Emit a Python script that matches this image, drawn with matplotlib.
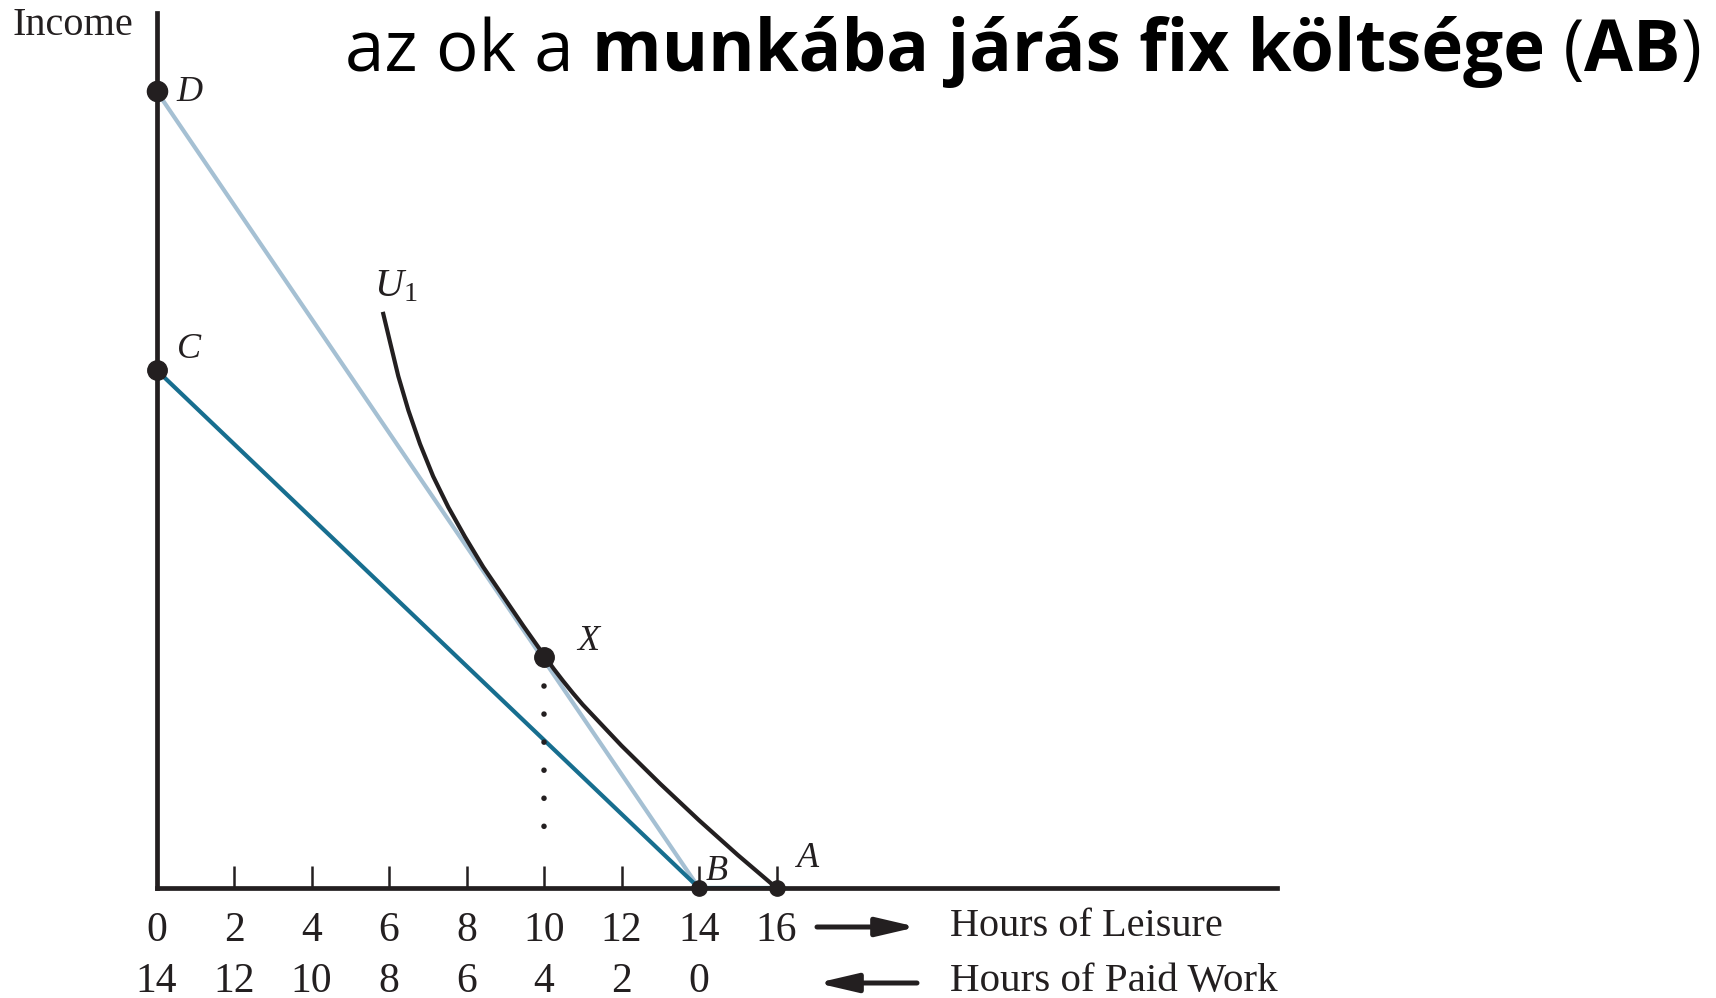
import matplotlib
matplotlib.use("Agg")
import matplotlib.pyplot as plt

plt.rcParams['mathtext.fontset'] = 'custom'
plt.rcParams['mathtext.rm'] = 'Liberation Serif'
plt.rcParams['mathtext.it'] = 'Liberation Serif:italic'

# data (hours of leisure, income)
D_income = 140
C_income = 91
B_hours = 14
A_hours = 16
X_point = (10, 40.6)
leisure_ticks = [0, 2, 4, 6, 8, 10, 12, 14, 16]
work_labels = ["14", "12", "10", "8", "6", "4", "2", "0"]
u1_hours = [5.84, 6.03, 6.24, 6.5, 6.8, 7.14, 7.53, 7.96, 8.43, 8.95, 9.47, 10.0,
            10.25, 10.5, 10.75, 11.0, 11.5, 12.0, 12.5, 13.0, 13.5, 14.0, 14.5, 15.0, 15.5, 16.0]
u1_income = [101.2, 95.8, 89.9, 83.9, 78.0, 72.3, 66.9, 61.7, 56.4, 51.2, 46.0, 40.9,
             38.5, 36.3, 34.2, 32.2, 28.6, 25.0, 21.65, 18.3, 15.1, 11.9, 8.85, 5.8, 2.9, 0.0]
dots_income = [35.5, 6.0]

W, H = 1716, 998
fig = plt.figure(figsize=(W / 100, H / 100), dpi=100)
ink = '#231f20'
light = '#a5c0d3'
teal = '#176e8f'
serif = 'Liberation Serif'

# axes: x=0 at 156.5px, 38.75 px per hour; y=0 at 888px, 5.693 px per unit
ax = fig.add_axes([156.5 / W, (H - 888) / H, (1277 - 156.5) / W, (888 - 13) / H])
ax.set_xlim(0, (1277 - 156.5) / 38.75)
ax.set_ylim(0, (888 - 13) / 5.693)
for s in ['top', 'right']:
    ax.spines[s].set_visible(False)
for s in ['left', 'bottom']:
    ax.spines[s].set_linewidth(3.4)
    ax.spines[s].set_color(ink)
ax.set_yticks([])
ax.set_xticks(leisure_ticks)
ax.set_xticklabels([str(t) for t in leisure_ticks], fontfamily=serif, fontsize=30, color=ink)
ax.tick_params(axis='x', direction='in', length=16, width=1.8, color=ink, pad=17)

# budget lines
ax.plot([0, B_hours], [D_income, 0], color=light, lw=3.0, solid_capstyle='round', clip_on=False)
ax.plot([0, B_hours, A_hours], [C_income, 0, 0], color=teal, lw=3.0, clip_on=False)
ax.plot(u1_hours, u1_income, color=ink, lw=3.0, solid_capstyle='butt',
        solid_joinstyle='round', clip_on=False)
ax.plot([X_point[0]] * 2, dots_income, color=ink, lw=4.0, linestyle=(0, (0.01, 5.04)),
        dash_capstyle='round')

# points
ax.plot([0], [D_income], 'o', color=ink, ms=14.5, clip_on=False, zorder=5)
ax.plot([0], [C_income], 'o', color=ink, ms=14, clip_on=False, zorder=5)
ax.plot([X_point[0]], [X_point[1]], 'o', color=ink, ms=14, clip_on=False, zorder=5)
ax.plot([B_hours, A_hours], [0, 0], 'o', color=ink, ms=11, clip_on=False, zorder=5)

lab = dict(fontfamily=serif, fontstyle='italic', fontsize=26, color=ink,
           textcoords='offset points', ha='center', va='center')
ax.annotate('D', (0, D_income), xytext=(24, -1), **lab)
ax.annotate('C', (0, C_income), xytext=(23.5, 15), **lab)
ax.annotate('X', X_point, xytext=(32, 11), **lab)
ax.annotate('B', (B_hours, 0), xytext=(13, 12), **lab)
ax.annotate('A', (A_hours, 0), xytext=(23, 21), **lab)
ax.annotate('$U_1$', (u1_hours[0], u1_income[0]), xytext=(9, 19), fontsize=29, color=ink,
            textcoords='offset points', ha='center', va='center')

# second row of labels: hours of paid work
for t, w in zip(leisure_ticks, work_labels):
    ax.text(t, -(982 - 888) / 875, w, transform=ax.get_xaxis_transform(),
            ha='center', va='center', fontfamily=serif, fontsize=30, color=ink)

# arrows and axis captions
arr = dict(arrowstyle='-|>,head_length=1.2,head_width=0.28', lw=3.6, color=ink,
           shrinkA=0, shrinkB=0, mutation_scale=20)
fig.add_artist(matplotlib.patches.FancyArrowPatch((817 / W, 1 - 927 / H), (917 / W, 1 - 927 / H),
                                                  transform=fig.transFigure, **arr))
fig.add_artist(matplotlib.patches.FancyArrowPatch((917 / W, 1 - 983 / H), (817 / W, 1 - 983 / H),
                                                  transform=fig.transFigure, **arr))
fig.text(950 / W, 1 - 927 / H, 'Hours of Leisure', fontfamily=serif, fontsize=29,
         color=ink, va='center', ha='left')
fig.text(950 / W, 1 - 982 / H, 'Hours of Paid Work', fontfamily=serif, fontsize=29.5,
         color=ink, va='center', ha='left')
fig.text(13 / W, 1 - 35 / H, 'Income', fontfamily=serif, fontsize=29, color=ink, va='baseline')

# title in mixed weights
pieces = [("az ok a ", 'normal'), ("munkába járás fix költsége", 'bold'), (" (", 'normal'),
          ("AB", 'bold'), (")", 'normal')]
renderer = fig.canvas.get_renderer()
x = 345
for txt, wt in pieces:
    t = fig.text(x / W, 1 - 71 / H, txt, fontfamily='Open Sans', fontweight=wt, fontsize=51,
                 color='black', va='baseline', ha='left')
    x = t.get_window_extent(renderer).x1

fig.savefig('out.png', dpi=100)
